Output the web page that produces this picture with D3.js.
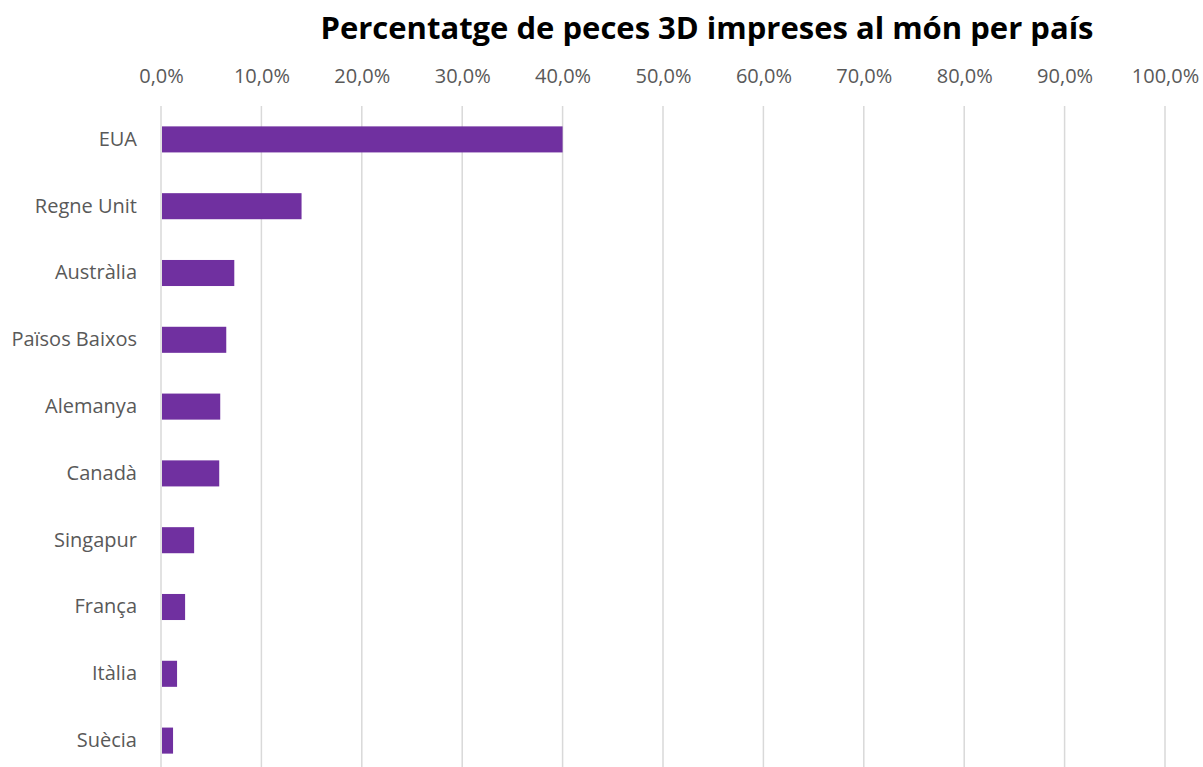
<!DOCTYPE html>
<html>
<head>
<meta charset="utf-8">
<script src="https://cdn.jsdelivr.net/npm/d3@7"></script>
<style>
  body { margin: 0; background: #fff; }
  svg { display: block; font-family: "Open Sans", sans-serif; }
</style>
</head>
<body>
<div id="chart"></div>
<script>
var countries = ["EUA", "Regne Unit", "Austràlia", "Països Baixos", "Alemanya",
                 "Canadà", "Singapur", "França", "Itàlia", "Suècia"];
var shares = [40.0, 14.0, 7.3, 6.5, 5.9, 5.8, 3.3, 2.4, 1.6, 1.2];
var tickValues = [0, 10, 20, 30, 40, 50, 60, 70, 80, 90, 100];
var title = "Percentatge de peces 3D impreses al món per país";

var width = 1203, height = 767,
    margin = {top: 106, left: 161, right: 38, bottom: -7};

var x = d3.scaleLinear().domain([0, 100]).range([margin.left, width - margin.right]),
    y = d3.scaleBand().domain(countries).range([margin.top, height - margin.bottom]).paddingInner(0.61).paddingOuter(0.305),
    fmt = d => d3.format(".1f")(d).replace(".", ",") + "%";

var svg = d3.select("#chart").append("svg")
    .attr("width", width)
    .attr("height", height);

svg.append("text")
    .attr("x", 707)
    .attr("y", 39)
    .attr("text-anchor", "middle")
    .style("font-weight", "bold")
    .style("font-size", "31px")
    .style("fill", "#000")
    .text(title);

// gridlines
svg.append("g")
    .selectAll("line")
    .data(tickValues)
    .enter().append("line")
    .attr("x1", d => x(d)).attr("x2", d => x(d))
    .attr("y1", margin.top).attr("y2", height)
    .attr("stroke", "#d9d9d9")
    .attr("stroke-width", 1.5);

// top axis labels
var xAxis = d3.axisTop(x).tickValues(tickValues).tickFormat(fmt).tickSize(0).tickPadding(0);
svg.append("g")
    .attr("transform", "translate(0,83)")
    .call(xAxis)
    .call(g => g.select(".domain").remove())
    .selectAll("text")
    .style("font-family", "'Open Sans', sans-serif")
    .style("font-size", "20px")
    .style("fill", "#595959");

// category labels
var yAxis = d3.axisLeft(y).tickSize(0).tickPadding(0);
svg.append("g")
    .attr("transform", "translate(137,0)")
    .call(yAxis)
    .call(g => g.select(".domain").remove())
    .selectAll("text")
    .style("font-family", "'Open Sans', sans-serif")
    .style("font-size", "20px")
    .style("fill", "#595959");

svg.append("g")
    .selectAll("rect")
    .data(shares)
    .enter().append("rect")
    .attr("x", x(0) + 1)
    .attr("y", (d, i) => y(countries[i]))
    .attr("width", d => x(d) - x(0) - 1)
    .attr("height", y.bandwidth())
    .attr("fill", "#7030a0");
</script>
</body>
</html>
